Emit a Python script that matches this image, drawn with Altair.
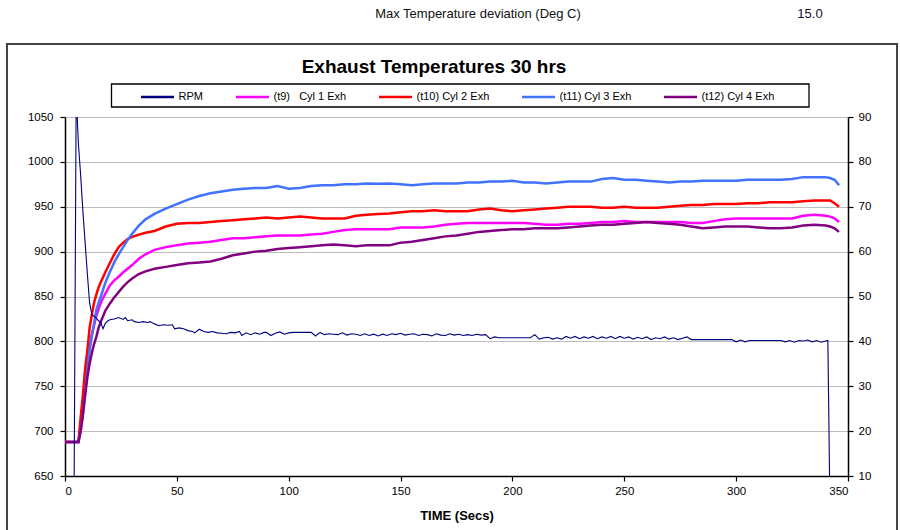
import altair as alt
import pandas as pd

# ---------------- text ----------------
header_label = "Max Temperature deviation (Deg C)"
header_value = "15.0"
chart_title = "Exhaust Temperatures 30 hrs"
x_title = "TIME (Secs)"

series_names = ["RPM", "(t9)\u00a0\u00a0\u00a0Cyl 1 Exh", "(t10) Cyl 2 Exh", "(t11) Cyl 3 Exh", "(t12) Cyl 4 Exh"]
series_colors = ["#000080", "#FF00FF", "#FF0000", "#4272FF", "#800080"]

left_ticks = [650, 700, 750, 800, 850, 900, 950, 1000, 1050]
right_ticks = [10, 20, 30, 40, 50, 60, 70, 80, 90]
x_ticks = [0, 50, 100, 150, 200, 250, 300, 350]

# ---------------- temperature data ----------------
temp_time = [0, 6, 7, 8, 9, 10, 11, 12, 13, 14, 15, 16, 18, 20, 22, 24, 26, 28, 30, 33, 36, 40, 45,
             50, 55, 60, 65, 70, 75, 80, 85, 90, 95, 100, 105, 110, 115, 120, 125, 130, 135, 140,
             145, 150, 155, 160, 165, 170, 175, 180, 185, 190, 195, 200, 205, 210, 215, 220, 225,
             230, 235, 240, 245, 250, 255, 260, 265, 270, 275, 280, 285, 290, 295, 300, 305, 310,
             315, 320, 325, 330, 335, 340, 342, 344, 346]

cyl1 = [688, 688, 705, 728, 755, 775, 793, 808, 818, 828, 836, 843, 853, 862, 868, 872, 877, 881, 885,
        892, 897, 902, 905, 907, 909, 910, 911, 913, 915, 915, 916, 917, 918, 918, 918, 919, 920, 922,
        924, 925, 925, 925, 925, 927, 927, 927, 928, 930, 931, 932, 932, 932, 932, 932, 932, 931, 930,
        930, 931, 931, 932, 933, 933, 934, 933, 933, 933, 933, 933, 932, 932, 934, 936, 937, 937, 937,
        937, 937, 937, 940, 941, 940, 939, 937, 933]

cyl2 = [688, 688, 715, 740, 770, 790, 815, 830, 843, 852, 860, 866, 877, 887, 897, 905, 910, 914, 916.5,
        919, 921, 923, 928, 931, 932, 932, 933, 934, 935, 936, 937, 938, 937, 938, 939, 938, 937, 937,
        937, 940, 941, 942, 942.5, 944, 945, 945, 946, 945, 945, 945, 947, 948, 946, 945, 946, 947, 948,
        949, 950, 950, 950, 949, 949, 950, 949, 949, 949, 950, 951, 952, 952, 953, 953, 953, 954, 954,
        955, 955, 955, 956, 957, 957, 957, 954, 950]

cyl3 = [688, 688, 700, 718, 742, 768, 790, 806, 820, 835, 843, 850, 865, 877, 888, 897, 905, 913, 920,
        929, 936, 942, 948, 953, 958, 962, 965, 967, 969, 970, 971, 971, 973, 970, 971, 973, 974, 974,
        975, 975, 976, 975.5, 976, 975, 974, 975, 976, 976, 976, 977, 977, 978, 978, 979, 977, 977, 976,
        977, 978, 978, 978, 981, 982, 980, 980, 979, 978, 977, 978, 978, 979, 979, 979, 979, 980, 980,
        980, 980, 981, 983, 983, 983, 982, 980, 974]

cyl4 = [688, 688, 700, 718, 740, 760, 775, 787, 797, 805, 815, 822, 834, 842, 849, 855, 861, 866, 870,
        875, 878, 881, 883, 885, 887, 888, 889, 892, 896, 898, 900, 901, 903, 904, 905, 906, 907, 908,
        907, 906, 907, 907, 907, 910, 911, 913, 915, 917, 918, 920, 922, 923, 924, 925, 925, 926, 926,
        926, 927, 928, 929, 930, 930, 931, 932, 933, 932, 931, 930, 928, 926, 927, 928, 928, 928, 927,
        926, 926, 927, 929, 930, 929, 928, 926, 922]

# ---------------- RPM data ----------------
rpm_time = [0, 4, 5, 6, 7, 8, 9, 10, 11, 12, 13, 14, 15, 16, 17, 18, 19, 20, 22, 24, 26, 27, 28, 30,
            31, 33, 35, 37, 38, 40, 42, 44, 46, 48, 49, 51, 53, 55, 57, 58, 60, 62, 64, 66, 68, 70,
            72, 74, 76, 78, 79, 81, 83, 85, 87, 89, 90, 92, 94, 96, 98, 100, 102, 104, 107, 110, 112,
            114, 116, 118, 120, 122, 124, 126, 128, 130, 132, 134, 136, 138, 140, 142, 144, 146, 148,
            150, 152, 154, 156, 158, 160, 162, 164, 166, 168, 170, 172, 174, 176, 178, 180, 182, 184,
            186, 188, 190, 192, 194, 200, 208, 210, 212, 214, 216, 218, 220, 222, 224, 226, 228, 230,
            232, 234, 236, 238, 240, 242, 244, 246, 248, 250, 252, 254, 256, 258, 260, 262, 264, 266,
            268, 270, 272, 274, 276, 278, 280, 290, 298, 300, 302, 304, 306, 310, 315, 320, 322, 324,
            326, 328, 330, 332, 334, 336, 338, 340, 341, 342, 346]

rpm_value = [0, 0, 95, 84, 77, 69, 62, 55, 48.5, 46, 45.6, 45.2, 44.6, 44.2, 42.8, 44.0, 44.5, 44.8,
             45.0, 45.3, 44.9, 45.3, 44.6, 44.8, 44.4, 44.2, 44.4, 44.2, 44.4, 43.9, 43.5, 43.7, 43.6,
             43.7, 42.8, 43.0, 42.8, 42.4, 42.2, 41.9, 42.7, 42.2, 42.0, 42.2, 41.9, 41.8, 41.7, 42.0,
             41.9, 42.2, 41.3, 41.9, 41.5, 41.9, 41.6, 42.0, 42.0, 41.3, 41.8, 42.1, 41.6, 41.9, 42.0,
             42.0, 42.0, 42.0, 41.2, 42.0, 41.5, 41.7, 41.6, 41.5, 41.9, 41.4, 41.7, 41.6, 41.3, 41.7,
             41.3, 41.6, 41.2, 41.6, 41.3, 41.7, 41.5, 41.8, 41.4, 41.6, 41.7, 41.3, 41.6, 41.5, 41.2,
             41.7, 41.4, 41.3, 41.7, 41.4, 41.6, 41.3, 41.5, 41.3, 41.6, 41.4, 41.5, 40.6, 41.0, 40.8,
             40.8, 40.8, 41.5, 40.5, 40.8, 40.9, 40.5, 40.8, 40.5, 41.1, 40.7, 41.1, 40.6, 41.0, 40.7,
             41.1, 40.6, 41.0, 40.7, 41.1, 40.6, 41.1, 40.7, 41.0, 40.5, 40.9, 40.6, 41.0, 40.4, 40.8,
             40.6, 41.0, 40.5, 40.8, 40.4, 40.7, 41.0, 40.4, 40.4, 40.4, 39.9, 40.3, 39.9, 40.2, 40.2,
             40.2, 40.2, 39.9, 40.2, 39.8, 40.2, 40.1, 40.3, 39.9, 40.2, 39.8, 40.1, 40.2, 0, 0]

# ---------------- tables ----------------
temp_rows = []
for name, vals in zip(series_names[1:], [cyl1, cyl2, cyl3, cyl4]):
    for t, v in zip(temp_time, vals):
        temp_rows.append({"time": t, "value": v, "series": name})
temp_df = pd.DataFrame(temp_rows)
rpm_df = pd.DataFrame({"time": rpm_time, "rpm": rpm_value, "series": series_names[0]})
one = pd.DataFrame({"k": [0]})

FONT = "Liberation Sans"

color = alt.Color(
    "series:N",
    scale=alt.Scale(domain=series_names, range=series_colors),
    legend=alt.Legend(
        title=None, orient="none", direction="horizontal", columns=5,
        legendX=74.5, legendY=-38, symbolType="stroke", symbolSize=1089,
        symbolStrokeWidth=2.5, labelFont=FONT, labelFontSize=11, labelColor="black",
        labelOffset=3, columnPadding=27, padding=0, labelLimit=200,
    ),
)

x_enc = alt.X(
    "time:Q",
    scale=alt.Scale(domain=[0, 350], nice=False, zero=False),
    axis=alt.Axis(values=x_ticks, title=x_title, grid=False, titleFont=FONT,
                  titleFontSize=13, titleFontWeight="bold", titleColor="black",
                  titlePadding=13, labelPadding=4, format="d"),
)

temps = alt.Chart(temp_df).mark_line(strokeWidth=2.5, clip=True).encode(
    x=x_enc,
    y=alt.Y("value:Q", scale=alt.Scale(domain=[650, 1050], nice=False, zero=False),
            axis=alt.Axis(values=left_ticks, title=None, grid=True, orient="left",
                          labelPadding=7, format="d")),
    color=color,
)

rpm = alt.Chart(rpm_df).mark_line(strokeWidth=1.1, clip=True).encode(
    x=alt.X("time:Q", scale=alt.Scale(domain=[0, 350], nice=False, zero=False)),
    y=alt.Y("rpm:Q", scale=alt.Scale(domain=[10, 90], nice=False, zero=False),
            axis=alt.Axis(values=right_ticks, title=None, grid=False, orient="right",
                          labelPadding=5, format="d")),
    color=color,
)

frame = alt.Chart(one).mark_rect(fill="transparent", stroke="#444444", strokeWidth=2).encode(
    x=alt.value(-58), x2=alt.value(832), y=alt.value(-73), y2=alt.value(425)
)
legend_box = alt.Chart(one).mark_rect(fill="transparent", stroke="black", strokeWidth=1.3).encode(
    x=alt.value(46.5), x2=alt.value(744), y=alt.value(-33), y2=alt.value(-10)
)
title_text = alt.Chart(one).mark_text(font=FONT, fontSize=19, fontWeight="bold", color="black",
                                      align="center", baseline="middle").encode(
    x=alt.value(369), y=alt.value(-50), text=alt.value(chart_title)
)
header_text = alt.Chart(one).mark_text(font=FONT, fontSize=13, color="#111111",
                                       align="center", baseline="middle").encode(
    x=alt.value(413), y=alt.value(-103), text=alt.value(header_label)
)
header_val = alt.Chart(one).mark_text(font=FONT, fontSize=13, color="#111133",
                                      align="center", baseline="middle").encode(
    x=alt.value(745), y=alt.value(-103), text=alt.value(header_value)
)

chart = (
    alt.layer(temps, rpm, frame, legend_box, title_text, header_text, header_val)
    .resolve_scale(y="independent")
    .properties(
        width=783, height=359,
        padding={"left": 65, "top": 117, "right": 52, "bottom": 54},
        autosize=alt.AutoSizeParams(type="none"),
        background="white",
    )
    .configure_view(stroke="transparent")
    .configure_axis(
        labelFont=FONT, labelFontSize=11.5, labelColor="black",
        domainColor="black", domainWidth=1.5, tickColor="black", tickWidth=1.2, tickSize=5,
        gridColor="#BEBEBE", gridWidth=1,
    )
)

chart.save("out.html", embed_options={"renderer": "svg", "actions": False})
